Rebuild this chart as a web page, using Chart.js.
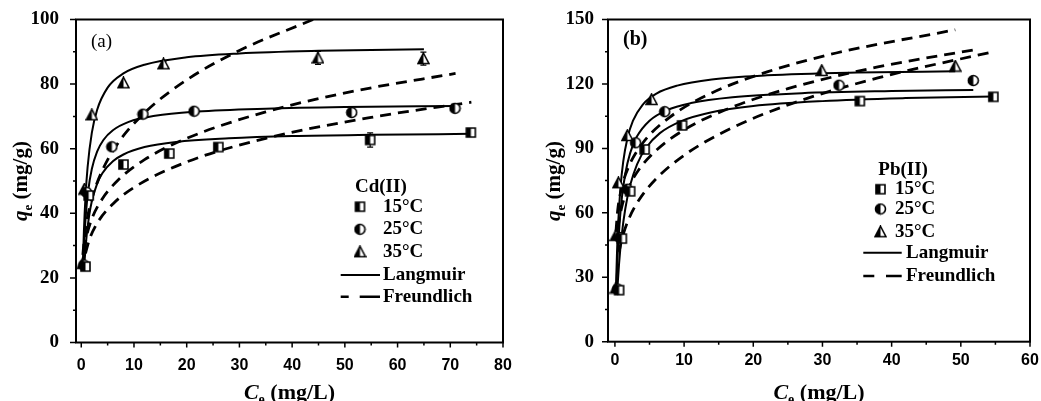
<!DOCTYPE html>
<html lang="en">
<head>
<meta charset="UTF-8" />
<title>Cd(II) and Pb(II) adsorption isotherms</title>
<script src="https://cdn.jsdelivr.net/npm/chart.js"></script>
<style>
  body { margin: 0; background: #fff; }
  .wrap { position: relative; width: 1041px; height: 401px; overflow: hidden; }
  canvas { position: absolute; top: 0; }
  #chartA { left: 0; }
  #chartB { left: 520px; }
</style>
</head>
<body>
<div class="wrap">
  <canvas id="chartA" width="520" height="401"></canvas>
  <canvas id="chartB" width="521" height="401"></canvas>
</div>
<script>
const temps = ['15°C', '25°C', '35°C'];
const models = ['Langmuir', 'Freundlich'];

// ---- (a) Cd(II): measured points (C_e, q_e, error) ----
const cdC15 = [0.8, 1.4, 8.0, 16.7, 26.0, 54.8, 73.9];
const cdQ15 = [23.5, 45.5, 55.1, 58.5, 60.5, 62.7, 65.0];
const cdE15 = [0, 0, 0, 0, 0.8, 2.2, 0.8];
const cdC25 = [0.5, 1.0, 5.8, 11.7, 21.4, 51.3, 70.9];
const cdQ25 = [24.0, 46.5, 60.6, 70.7, 71.6, 71.2, 72.5];
const cdE25 = [0, 0, 0, 0, 0.8, 0.8, 0.8];
const cdC35 = [0.3, 0.6, 2.0, 8.0, 15.6, 44.9, 64.9];
const cdQ35 = [24.5, 47.5, 70.5, 80.4, 86.3, 88.1, 87.9];
const cdE35 = [0, 0, 0, 0, 0.8, 2.0, 2.0];

// Langmuir fits (a)
const cdLC15 = [0.55, 0.8, 1.1, 1.5, 2, 3, 4, 6, 8, 12, 18, 28, 40, 55, 74];
const cdLQ15 = [23.2, 29.1, 34.3, 39.3, 43.7, 49.1, 52.4, 56.1, 58.2, 60.5, 62.1, 63.2, 63.9, 64.3, 64.6];
const cdLC25 = [0.4, 0.6, 0.9, 1.3, 2, 3, 4.2, 6, 9, 14, 22, 35, 50, 71];
const cdLQ25 = [25.6, 32.7, 40.2, 46.8, 53.7, 59.1, 62.7, 65.7, 68.3, 70.2, 71.5, 72.4, 72.9, 73.2];
const cdLC35 = [0.3, 0.5, 0.8, 1.2, 2, 3, 5, 8, 12, 20, 30, 45, 65];
const cdLQ35 = [24.4, 34.5, 45.1, 54.3, 64.9, 72.0, 78.9, 83.3, 86.0, 88.3, 89.5, 90.3, 90.8];

// Freundlich fits (a)
const cdFC15 = [0.8, 1.5, 3, 6, 10, 20, 35, 55, 74];
const cdFQ15 = [27.6, 31.7, 36.9, 42.9, 48.0, 55.9, 63.2, 69.7, 74.4];
const cdFC25 = [0.5, 1, 2, 4, 7, 12, 20, 35, 52, 71];
const cdFQ25 = [28.3, 32.9, 38.3, 44.5, 50.3, 56.6, 63.2, 71.4, 77.9, 83.3];
const cdFC35 = [0.3, 0.6, 1, 2, 4, 7, 12, 20, 30, 44];
const cdFQ35 = [27.1, 32.5, 37.1, 44.5, 53.3, 61.8, 71.1, 81.3, 90.4, 100.0];

// ---- (b) Pb(II): measured points ----
const pbC15 = [0.6, 1.0, 2.2, 4.3, 9.7, 35.4, 54.7];
const pbQ15 = [24.0, 48.0, 70.0, 89.5, 100.7, 112.0, 114.0];
const pbE15 = [0, 0, 0, 0, 0, 1.2, 1.2];
const pbC25 = [0.4, 0.7, 1.8, 3.0, 7.2, 32.4, 51.8];
const pbQ25 = [24.5, 48.5, 71.0, 92.6, 107.1, 119.4, 121.6];
const pbE25 = [0, 0, 0, 0, 0, 0, 0];
const pbC35 = [0.15, 0.15, 0.5, 1.8, 5.3, 29.9, 49.2];
const pbQ35 = [25.0, 49.5, 74.0, 96.0, 112.8, 126.3, 128.3];
const pbE35 = [0, 0, 0, 0, 0, 0, 0];

// Langmuir fits (b)
const pbLC15 = [0.35, 0.6, 1.0, 1.5, 2.2, 3.2, 4.5, 6.5, 9.6, 14, 20, 30, 42, 54.7];
const pbLQ15 = [24.3, 36.3, 50.1, 61.9, 72.8, 82.6, 90.3, 97.1, 102.7, 106.8, 109.7, 112.0, 113.4, 114.2];
const pbLC25 = [0.2, 0.4, 0.7, 1.0, 1.5, 2.2, 3.2, 5, 7.5, 11, 17, 27, 40, 51.8];
const pbLQ25 = [24.3, 40.3, 56.2, 66.8, 78.2, 87.8, 95.6, 102.9, 107.8, 111.1, 113.8, 115.7, 116.7, 117.2];
const pbLC35 = [0.15, 0.3, 0.5, 0.8, 1.2, 1.8, 2.6, 4, 6, 9, 14, 22, 35, 49.2];
const pbLQ35 = [24.7, 41.4, 56.7, 71.6, 83.8, 94.6, 102.8, 110.3, 115.5, 119.2, 122.1, 124.0, 125.3, 125.9];

// Freundlich fits (b)
const pbFC15 = [0.6, 1, 2, 3.5, 6, 10, 16, 25, 38, 54.7];
const pbFQ15 = [41.8, 47.7, 57.1, 66.1, 76.0, 86.8, 98.1, 110.2, 122.8, 135.0];
const pbFC25 = [0.4, 1, 2, 3.5, 6, 10, 16, 25, 38, 51.8];
const pbFQ25 = [52.6, 62.9, 72.0, 80.3, 89.2, 98.6, 108.0, 117.8, 127.9, 135.8];
const pbFC35 = [0.15, 0.4, 1, 2, 4, 8, 14, 22, 32, 49.2];
const pbFQ35 = [51.2, 61.1, 72.0, 81.6, 92.4, 104.7, 115.8, 125.6, 134.4, 145.2];

// axis ticks
const xTicksA = [0, 5, 10, 15, 20, 25, 30, 35, 40, 45, 50, 55, 60, 65, 70, 75, 80];
const yTicksA = [0, 10, 20, 30, 40, 50, 60, 70, 80, 90, 100];
const xTicksB = [0, 5, 10, 15, 20, 25, 30, 35, 40, 45, 50, 55, 60];
const yTicksB = [0, 15, 30, 45, 60, 75, 90, 105, 120, 135, 150];

const SERIF = '"Liberation Serif", "Times New Roman", serif';
const SANS = '"Liberation Sans", Arial, sans-serif';

// half-filled markers (square, circle, triangle)
function makeMarker(shape) {
  const c = document.createElement('canvas');
  c.width = 13; c.height = 13;
  const g = c.getContext('2d');
  g.lineWidth = 1.6;
  g.strokeStyle = '#000';
  g.fillStyle = '#fff';
  g.beginPath();
  if (shape === 'square') g.rect(2, 2, 9, 9);
  else if (shape === 'circle') g.arc(6.5, 6.5, 5, 0, Math.PI * 2);
  else { g.moveTo(6.5, 1); g.lineTo(12, 11.5); g.lineTo(1, 11.5); g.closePath(); }
  g.fill();
  g.save();
  g.clip();
  g.fillStyle = '#000';
  g.fillRect(0, 0, 6.5, 13);
  g.restore();
  g.stroke();
  return c;
}
const markers = [makeMarker('square'), makeMarker('circle'), makeMarker('triangle')];

function pts(xs, ys) {
  return xs.map((x, i) => ({ x: x, y: ys[i] }));
}

function drawRich(ctx, parts, cx, cy, rotate) {
  ctx.save();
  ctx.translate(cx, cy);
  if (rotate) ctx.rotate(-Math.PI / 2);
  let w = 0;
  parts.forEach(p => { ctx.font = p.font; w += ctx.measureText(p.t).width; });
  let x = -w / 2;
  ctx.textAlign = 'left';
  ctx.textBaseline = 'alphabetic';
  ctx.fillStyle = '#000';
  parts.forEach(p => {
    ctx.font = p.font;
    ctx.fillText(p.t, x, p.dy || 0);
    x += ctx.measureText(p.t).width;
  });
  ctx.restore();
}

const yTitleParts = [
  { t: 'q', font: 'italic bold 21px ' + SERIF, dy: 7 },
  { t: 'e', font: 'bold 13px ' + SERIF, dy: 12 },
  { t: ' (mg/g)', font: 'bold 21px ' + SERIF, dy: 7 }
];
const xTitleParts = [
  { t: 'C', font: 'italic bold 22px ' + SERIF },
  { t: 'e', font: 'bold 14px ' + SERIF, dy: 5 },
  { t: ' (mg/L)', font: 'bold 22px ' + SERIF }
];

const decor = {
  id: 'decor',
  beforeDatasetsDraw(chart) {
    // error bars
    const { ctx, scales: { x, y } } = chart;
    ctx.save();
    ctx.strokeStyle = '#000';
    ctx.lineWidth = 1.2;
    chart.data.datasets.forEach(ds => {
      if (!ds.err) return;
      ds.data.forEach((p, i) => {
        const e = ds.err[i];
        if (!e) return;
        const px = x.getPixelForValue(p.x);
        const top = y.getPixelForValue(p.y + e);
        const bot = y.getPixelForValue(p.y - e);
        ctx.beginPath();
        ctx.moveTo(px, top); ctx.lineTo(px, bot);
        ctx.moveTo(px - 3, top); ctx.lineTo(px + 3, top);
        ctx.moveTo(px - 3, bot); ctx.lineTo(px + 3, bot);
        ctx.stroke();
      });
    });
    ctx.restore();
  },
  afterDraw(chart, args, o) {
    const { ctx, chartArea: a, scales: { x, y } } = chart;
    ctx.save();
    ctx.strokeStyle = '#000';
    ctx.fillStyle = '#000';

    // frame
    ctx.lineWidth = 2;
    ctx.strokeRect(a.left, a.top, a.right - a.left, a.bottom - a.top);

    // tick marks, outward
    ctx.lineWidth = 1.5;
    ctx.beginPath();
    x.ticks.forEach(t => {
      const px = x.getPixelForValue(t.value);
      const len = t.value % o.xMajor === 0 ? 5 : 3;
      ctx.moveTo(px, a.bottom); ctx.lineTo(px, a.bottom + len);
    });
    y.ticks.forEach(t => {
      const py = y.getPixelForValue(t.value);
      const len = t.value % o.yMajor === 0 ? 6 : 3;
      ctx.moveTo(a.left, py); ctx.lineTo(a.left - len, py);
    });
    ctx.stroke();

    // axis titles
    drawRich(ctx, yTitleParts, o.yTitleX, o.yTitleY, true);
    drawRich(ctx, xTitleParts, (a.left + a.right) / 2, 399, false);

    // panel label
    ctx.font = o.panelFont;
    ctx.textAlign = 'left';
    ctx.textBaseline = 'middle';
    ctx.fillText(o.panel, o.panelX, o.panelY);

    // legend
    const L = o.legend;
    ctx.font = 'bold 19px ' + SERIF;
    ctx.fillText(o.metal, L.headX, L.headY);
    temps.forEach((t, i) => {
      ctx.drawImage(markers[i], L.markX - 6.5, L.rows[i] - 6.5);
      ctx.fillText(t, L.textX, L.rows[i]);
    });
    ctx.lineWidth = 2;
    ctx.beginPath();
    ctx.moveTo(L.lineX0, L.rows[3]); ctx.lineTo(L.lineX1, L.rows[3]);
    ctx.stroke();
    ctx.lineWidth = 2.6;
    ctx.beginPath();
    L.dashes.forEach(d => { ctx.moveTo(L.lineX0 + d[0], L.rows[4]); ctx.lineTo(L.lineX0 + d[1], L.rows[4]); });
    ctx.stroke();
    ctx.fillText(models[0], L.modelX, L.rows[3]);
    ctx.fillText(models[1], L.modelX, L.rows[4]);
    ctx.restore();
  }
};

function buildDatasets(points, lang, freu) {
  const sets = [];
  points.forEach((s, i) => sets.push({
    label: temps[i], data: pts(s[0], s[1]), err: s[2],
    showLine: false, pointStyle: markers[i], pointRadius: 6
  }));
  lang.forEach(s => sets.push({
    data: pts(s[0], s[1]), showLine: true, borderColor: '#000', borderWidth: 2,
    pointRadius: 0, cubicInterpolationMode: 'monotone'
  }));
  freu.forEach(s => sets.push({
    data: pts(s[0], s[1]), showLine: true, borderColor: '#000', borderWidth: 2.8,
    borderDash: [11, 7], pointRadius: 0, cubicInterpolationMode: 'monotone'
  }));
  return sets;
}

function makePanel(id, cfg) {
  new Chart(document.getElementById(id), {
    type: 'line',
    data: { datasets: buildDatasets(cfg.points, cfg.lang, cfg.freu) },
    options: {
      responsive: false,
      animation: false,
      layout: { padding: cfg.padding },
      plugins: { legend: { display: false }, tooltip: { enabled: false }, decor: cfg.decor },
      scales: {
        x: {
          type: 'linear', min: cfg.xMin, max: cfg.xMax,
          grid: { display: false }, border: { display: false },
          afterBuildTicks: s => { s.ticks = cfg.xTicks.map(v => ({ value: v })); },
          afterFit: s => { s.height = cfg.xHeight; s.paddingLeft = 0; s.paddingRight = 0; },
          ticks: {
            autoSkip: false, maxRotation: 0, padding: cfg.xPad, color: '#000',
            font: { family: SANS, weight: 'bold', size: 16 },
            callback: v => (v % cfg.decor.xMajor === 0 ? v : '')
          }
        },
        y: {
          type: 'linear', min: cfg.yMin, max: cfg.yMax,
          grid: { display: false }, border: { display: false },
          afterBuildTicks: s => { s.ticks = cfg.yTicks.map(v => ({ value: v })); },
          afterFit: s => { s.width = cfg.yWidth; s.paddingTop = 0; s.paddingBottom = 0; },
          ticks: {
            autoSkip: false, padding: cfg.yPad, color: '#000',
            font: { family: SERIF, weight: 'bold', size: 19 },
            callback: v => (v % cfg.decor.yMajor === 0 ? v : '')
          }
        }
      }
    },
    plugins: [decor]
  });
}

makePanel('chartA', {
  points: [[cdC15, cdQ15, cdE15], [cdC25, cdQ25, cdE25], [cdC35, cdQ35, cdE35]],
  lang: [[cdLC15, cdLQ15], [cdLC25, cdLQ25], [cdLC35, cdLQ35]],
  freu: [[cdFC15, cdFQ15], [cdFC25, cdFQ25], [cdFC35, cdFQ35]],
  xMin: -1, xMax: 80, yMin: 0, yMax: 100,
  xTicks: xTicksA, yTicks: yTicksA,
  padding: { left: 0, top: 19.5, right: 17, bottom: 0 },
  xHeight: 58.5, yWidth: 76, xPad: 5, yPad: 9,
  decor: {
    xMajor: 10, yMajor: 20, yTitleX: 19.5, yTitleY: 181,
    panel: '(a)', panelFont: '19px ' + SERIF, panelX: 91, panelY: 42,
    metal: 'Cd(II)',
    legend: {
      headX: 355, headY: 187, markX: 360, textX: 383, modelX: 383,
      rows: [206.7, 229.3, 251.7, 275, 296.7],
      lineX0: 340.7, lineX1: 380, dashes: [[0, 8], [19, 39.3]]
    }
  }
});

makePanel('chartB', {
  points: [[pbC15, pbQ15, pbE15], [pbC25, pbQ25, pbE25], [pbC35, pbQ35, pbE35]],
  lang: [[pbLC15, pbLQ15], [pbLC25, pbLQ25], [pbLC35, pbLQ35]],
  freu: [[pbFC15, pbFQ15], [pbFC25, pbFQ25], [pbFC35, pbFQ35]],
  xMin: -1, xMax: 60, yMin: 0, yMax: 150,
  xTicks: xTicksB, yTicks: yTicksB,
  padding: { left: 0, top: 19.5, right: 11, bottom: 0 },
  xHeight: 59.3, yWidth: 88, xPad: 1, yPad: 6,
  decor: {
    xMajor: 10, yMajor: 30, yTitleX: 33, yTitleY: 181,
    panel: '(b)', panelFont: 'bold 20px ' + SERIF, panelX: 103, panelY: 40,
    metal: 'Pb(II)',
    legend: {
      headX: 358.3, headY: 170, markX: 360.5, textX: 375, modelX: 386,
      rows: [189.2, 209, 231.7, 252.7, 276],
      lineX0: 343.3, lineX1: 381.7, dashes: [[0, 11], [22.7, 38.4]]
    }
  }
});
</script>
</body>
</html>
